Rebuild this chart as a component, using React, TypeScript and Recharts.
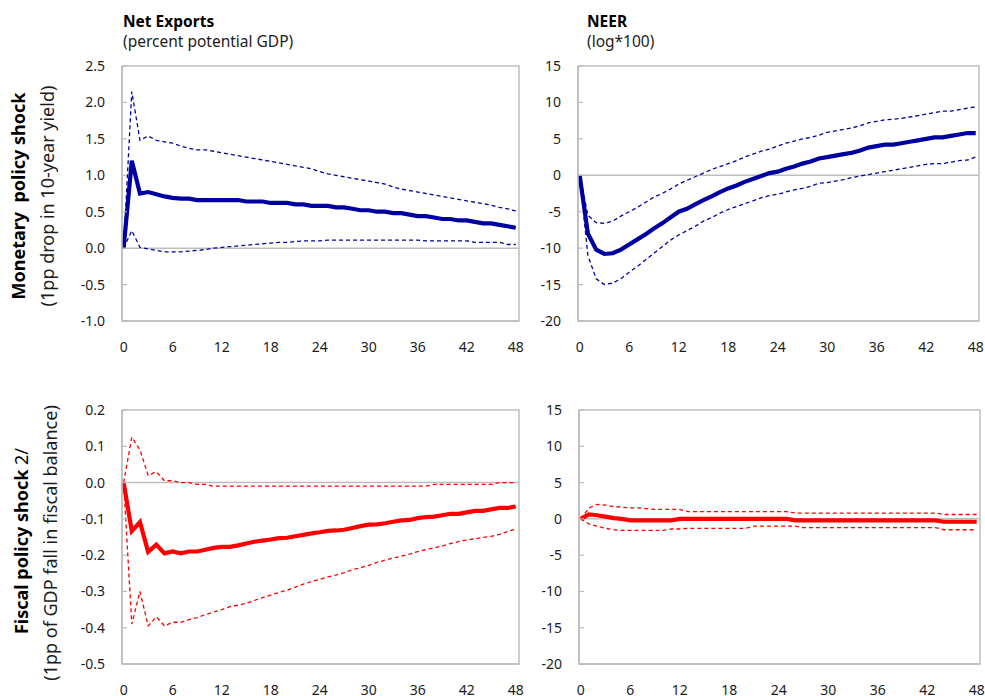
import React from "react";
import { LineChart, Line, XAxis, YAxis, ReferenceLine, ReferenceArea } from "recharts";

const months = [
  0, 1, 2, 3, 4, 5, 6, 7, 8, 9, 10, 11, 12, 13, 14, 15, 16, 17, 18, 19, 20, 21, 22, 23, 24,
  25, 26, 27, 28, 29, 30, 31, 32, 33, 34, 35, 36, 37, 38, 39, 40, 41, 42, 43, 44, 45, 46, 47, 48,
];
const xTicks = [0, 6, 12, 18, 24, 30, 36, 42, 48];

// monetary policy shock -> net exports (percent potential GDP)
const nxMonMid = [
  0, 1.2, 0.75, 0.77, 0.74, 0.71, 0.69, 0.68, 0.68, 0.66, 0.66, 0.66, 0.66, 0.66, 0.66, 0.64, 0.64,
  0.64, 0.62, 0.62, 0.62, 0.6, 0.6, 0.58, 0.58, 0.58, 0.56, 0.56, 0.54, 0.52, 0.52, 0.5, 0.5, 0.48,
  0.48, 0.46, 0.44, 0.44, 0.42, 0.4, 0.4, 0.38, 0.38, 0.36, 0.34, 0.34, 0.32, 0.3, 0.28,
];
const nxMonUp = [
  0, 2.15, 1.48, 1.54, 1.48, 1.46, 1.44, 1.4, 1.37, 1.35, 1.35, 1.33, 1.31, 1.29, 1.27, 1.25, 1.23,
  1.21, 1.19, 1.17, 1.15, 1.13, 1.11, 1.09, 1.05, 1.02, 1.0, 0.98, 0.96, 0.94, 0.92, 0.9, 0.88, 0.84,
  0.81, 0.79, 0.77, 0.75, 0.73, 0.71, 0.69, 0.67, 0.65, 0.63, 0.61, 0.59, 0.56, 0.54, 0.51,
];
const nxMonLo = [
  0, 0.24, 0.01, -0.01, -0.03, -0.05, -0.05, -0.05, -0.04, -0.03, -0.02, 0.0, 0.01, 0.02, 0.03, 0.04,
  0.05, 0.06, 0.07, 0.08, 0.08, 0.09, 0.1, 0.1, 0.1, 0.11, 0.11, 0.11, 0.11, 0.11, 0.11, 0.11, 0.11,
  0.11, 0.11, 0.11, 0.11, 0.1, 0.1, 0.1, 0.1, 0.1, 0.1, 0.08, 0.08, 0.08, 0.08, 0.05, 0.05,
];

// monetary policy shock -> NEER (log*100)
const neerMonMid = [
  0, -8, -10.2, -10.8, -10.7, -10.2, -9.5, -8.8, -8.1, -7.3, -6.6, -5.8, -5.0, -4.6, -4.0, -3.4,
  -2.9, -2.3, -1.8, -1.4, -0.9, -0.5, -0.1, 0.3, 0.5, 0.9, 1.2, 1.6, 1.9, 2.3, 2.5, 2.7, 2.9, 3.1,
  3.4, 3.8, 4.0, 4.2, 4.2, 4.4, 4.6, 4.8, 5.0, 5.2, 5.2, 5.4, 5.6, 5.8, 5.8,
];
const neerMonUp = [
  0, -5.5, -6.5, -6.6, -6.3, -5.6, -5.0, -4.4, -3.7, -3.0, -2.5, -1.9, -1.2, -0.7, -0.2, 0.3, 0.8,
  1.2, 1.6, 2.0, 2.5, 2.9, 3.3, 3.6, 4.0, 4.4, 4.7, 5.0, 5.2, 5.5, 5.9, 6.1, 6.3, 6.5, 6.8, 7.2,
  7.4, 7.6, 7.7, 7.8, 8.0, 8.2, 8.4, 8.6, 8.8, 8.8, 9.0, 9.2, 9.4,
];
const neerMonLo = [
  0, -11, -14.2, -15.0, -14.8, -14.2, -13.3, -12.5, -11.6, -10.7, -9.8, -8.9, -8.2, -7.6, -7.0,
  -6.3, -5.8, -5.2, -4.7, -4.3, -3.9, -3.5, -3.1, -2.8, -2.6, -2.3, -2.0, -1.8, -1.5, -1.1, -1.0,
  -0.8, -0.6, -0.3, -0.1, 0.1, 0.3, 0.5, 0.7, 0.9, 1.1, 1.3, 1.5, 1.6, 1.6, 1.8, 2.0, 2.1, 2.5,
];

// fiscal policy shock -> net exports
const nxFisMid = [
  0, -0.134, -0.109, -0.191, -0.171, -0.195, -0.19, -0.195, -0.19, -0.19, -0.185, -0.18, -0.177,
  -0.177, -0.173, -0.168, -0.163, -0.16, -0.157, -0.153, -0.152, -0.148, -0.144, -0.14, -0.137,
  -0.133, -0.132, -0.13, -0.125, -0.12, -0.116, -0.115, -0.112, -0.108, -0.104, -0.103, -0.098,
  -0.095, -0.094, -0.09, -0.086, -0.086, -0.082, -0.078, -0.078, -0.074, -0.07, -0.07, -0.066,
];
const nxFisUp = [
  0, 0.125, 0.09, 0.02, 0.03, 0.005, 0.005, 0.0, 0.0, -0.005, -0.005, -0.01, -0.01, -0.01, -0.01,
  -0.01, -0.01, -0.01, -0.01, -0.01, -0.01, -0.01, -0.01, -0.01, -0.01, -0.01, -0.01, -0.01, -0.01,
  -0.01, -0.01, -0.01, -0.01, -0.01, -0.01, -0.01, -0.01, -0.01, -0.005, -0.005, -0.005, -0.005,
  -0.005, -0.005, -0.005, -0.005, 0.0, 0.0, 0.0,
];
const nxFisLo = [
  0, -0.39, -0.3, -0.395, -0.37, -0.395, -0.385, -0.385, -0.378, -0.372, -0.364, -0.357, -0.35,
  -0.342, -0.338, -0.333, -0.325, -0.317, -0.31, -0.303, -0.297, -0.288, -0.28, -0.273, -0.267,
  -0.26, -0.255, -0.248, -0.24, -0.235, -0.228, -0.22, -0.214, -0.208, -0.203, -0.197, -0.19,
  -0.185, -0.18, -0.175, -0.168, -0.163, -0.158, -0.155, -0.151, -0.148, -0.143, -0.135, -0.128,
];

// fiscal policy shock -> NEER
const neerFisMid = [
  0, 0.6, 0.5, 0.3, 0.1, 0.0, -0.2, -0.2, -0.2, -0.2, -0.2, -0.2, 0.0, 0.0, 0.0, 0.0, 0.0, 0.0, 0.0,
  0.0, 0.0, 0.0, 0.0, 0.0, 0.0, 0.0, -0.2, -0.2, -0.2, -0.2, -0.2, -0.2, -0.2, -0.2, -0.2, -0.2,
  -0.2, -0.2, -0.2, -0.2, -0.2, -0.2, -0.2, -0.2, -0.4, -0.4, -0.4, -0.4, -0.4,
];
const neerFisUp = [
  0, 1.5, 2.0, 1.9, 1.7, 1.6, 1.5, 1.5, 1.4, 1.3, 1.3, 1.3, 1.3, 1.0, 1.0, 1.0, 1.0, 1.0, 1.0, 1.0,
  1.0, 1.0, 1.0, 1.0, 1.0, 1.0, 0.8, 0.8, 0.8, 0.8, 0.8, 0.8, 0.8, 0.8, 0.8, 0.8, 0.8, 0.8, 0.8,
  0.8, 0.8, 0.8, 0.8, 0.8, 0.6, 0.6, 0.6, 0.6, 0.6,
];
const neerFisLo = [
  0, -0.7, -1.0, -1.3, -1.5, -1.6, -1.6, -1.6, -1.6, -1.6, -1.6, -1.4, -1.4, -1.3, -1.3, -1.3, -1.3,
  -1.3, -1.3, -1.3, -1.3, -1.0, -1.0, -1.0, -1.0, -1.0, -1.0, -1.2, -1.2, -1.2, -1.2, -1.2, -1.2,
  -1.2, -1.2, -1.2, -1.2, -1.2, -1.2, -1.2, -1.2, -1.2, -1.2, -1.2, -1.5, -1.5, -1.5, -1.5, -1.5,
];

const nxMonTicks = [-1, -0.5, 0, 0.5, 1, 1.5, 2, 2.5];
const nxFisTicks = [-0.5, -0.4, -0.3, -0.2, -0.1, 0, 0.1, 0.2];
const neerTicks = [-20, -15, -10, -5, 0, 5, 10, 15];

const FRAME = "#bdbdbd";
const INK = "#1c1c1c";
const BLUE = "#0000a0";
const RED = "#ff0000";
const FONT = '"Noto Sans", "Open Sans", sans-serif';
const X_MIN = -0.2;
const X_MAX = 48.4;

type PanelProps = {
  left: number;
  top: number;
  width: number;
  height: number;
  right: number;
  mid: number[];
  upper: number[];
  lower: number[];
  color: string;
  ticks: number[];
  decimals: number;
};

function Panel({ left, top, width, height, right, mid, upper, lower, color, ticks, decimals }: PanelProps) {
  const data = months.map((m, i) => ({ m, mid: mid[i], up: upper[i], lo: lower[i] }));
  const lo = ticks[0];
  const hi = ticks[ticks.length - 1];
  const axisLine = { stroke: FRAME, strokeWidth: 1.5 };
  return (
    <div style={{ position: "absolute", left, top }}>
      <LineChart width={width} height={height} data={data} margin={{ top: 10, right, bottom: 0, left: 0 }}>
        <XAxis
          dataKey="m"
          type="number"
          domain={[X_MIN, X_MAX]}
          allowDataOverflow
          ticks={xTicks}
          interval={0}
          axisLine={axisLine}
          tickLine={false}
          tickSize={6}
          tickMargin={15}
          height={40}
          tick={{ fill: INK, fontSize: 14, fontFamily: FONT }}
        />
        <YAxis
          type="number"
          domain={[lo, hi]}
          ticks={ticks}
          interval={0}
          width={62}
          axisLine={axisLine}
          tickLine={{ stroke: FRAME, strokeWidth: 1.2 }}
          tickSize={-5}
          tickMargin={22}
          tickFormatter={(v: number) => v.toFixed(decimals)}
          tick={{ fill: INK, fontSize: 14, fontFamily: FONT }}
        />
        <ReferenceArea x1={X_MIN} x2={X_MAX} y1={lo} y2={hi} fill="none" stroke={FRAME} strokeWidth={1.5} ifOverflow="visible" />
        <ReferenceLine y={0} stroke={FRAME} strokeWidth={1.5} />
        <Line type="linear" dataKey="up" stroke={color} strokeWidth={1.3} strokeDasharray="4 3" dot={false} isAnimationActive={false} />
        <Line type="linear" dataKey="lo" stroke={color} strokeWidth={1.3} strokeDasharray="4 3" dot={false} isAnimationActive={false} />
        <Line type="linear" dataKey="mid" stroke={color} strokeWidth={4.2} dot={false} isAnimationActive={false} />
      </LineChart>
    </div>
  );
}

export default function App() {
  return (
    <div
      style={{
        position: "absolute",
        left: 0,
        top: 0,
        width: 985,
        height: 696,
        overflow: "hidden",
        background: "#fff",
        fontFamily: FONT,
      }}
    >
      <Panel left={60} top={56} width={475} right={16} height={305} mid={nxMonMid} upper={nxMonUp} lower={nxMonLo} color={BLUE} ticks={nxMonTicks} decimals={1} />
      <Panel left={516} top={56} width={469} right={6} height={305} mid={neerMonMid} upper={neerMonUp} lower={neerMonLo} color={BLUE} ticks={neerTicks} decimals={0} />
      <Panel left={60} top={400} width={475} right={16} height={304} mid={nxFisMid} upper={nxFisUp} lower={nxFisLo} color={RED} ticks={nxFisTicks} decimals={1} />
      <Panel left={517} top={400} width={468} right={5} height={304} mid={neerFisMid} upper={neerFisUp} lower={neerFisLo} color={RED} ticks={neerTicks} decimals={0} />

      <svg width={985} height={696} style={{ position: "absolute", left: 0, top: 0, pointerEvents: "none" }}>
        <g fill="#000" fontFamily={FONT}>
          <text x={123} y={27} fontSize={15.5} fontWeight="bold">Net Exports</text>
          <text x={123} y={47} fontSize={15.5} fill={INK}>(percent potential GDP)</text>
          <text x={587} y={27} fontSize={15.5} fontWeight="bold">NEER</text>
          <text x={587} y={47} fontSize={15.5} fill={INK}>(log*100)</text>

          <text transform="translate(25,196) rotate(-90)" textAnchor="middle" fontSize={18} fontWeight="bold">
            Monetary{"\u00a0\u00a0"}policy shock
          </text>
          <text transform="translate(54,196) rotate(-90)" textAnchor="middle" fontSize={18} fill={INK}>
            (1pp drop in 10-year yield)
          </text>
          <text transform="translate(28,541) rotate(-90)" textAnchor="middle" fontSize={18}>
            <tspan fontWeight="bold">Fiscal policy shock</tspan>
            <tspan> 2/</tspan>
          </text>
          <text transform="translate(57,543) rotate(-90)" textAnchor="middle" fontSize={18} fill={INK}>
            (1pp of GDP fall in fiscal balance)
          </text>
        </g>
      </svg>
    </div>
  );
}
